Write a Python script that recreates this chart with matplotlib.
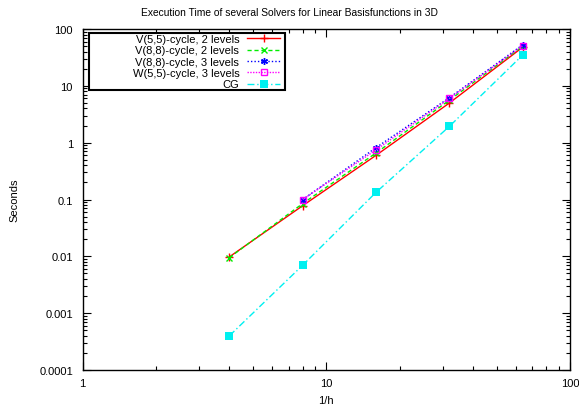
import matplotlib
matplotlib.use("Agg")
import matplotlib.pyplot as plt
from matplotlib.patches import Rectangle
from matplotlib.ticker import LogLocator, FixedLocator, FixedFormatter, NullFormatter

plt.rcParams['font.family'] = ['Liberation Sans', 'DejaVu Sans']

# 1/h values for each grid level
h_inv = [4, 8, 16, 32, 64]
h_inv_3lvl = [8, 16, 32, 64]

# execution times in seconds
v55_2 = [0.0098, 0.078, 0.6, 5.0, 48]
v88_2 = [0.0095, 0.085, 0.66, 5.6, 50]
v88_3 = [0.1, 0.82, 6.2, 53]
w55_3 = [0.1, 0.75, 6.0, 51]
cg = [0.0004, 0.007, 0.134, 1.94, 35]

labels = ["V(5,5)-cycle, 2 levels", "V(8,8)-cycle, 2 levels",
          "V(8,8)-cycle, 3 levels", "W(5,5)-cycle, 3 levels", "CG"]

x_ticks = [1, 10, 100]
x_tick_labels = ["1", "10", "100"]
y_ticks = [0.0001, 0.001, 0.01, 0.1, 1, 10, 100]
y_tick_labels = ["0.0001", "0.001", "0.01", "0.1", "1", "10", "100"]

fig = plt.figure(figsize=(5.79, 4.10), dpi=100)
ax = fig.add_axes([0.1428, 0.0951, 0.9845 - 0.1428, 0.9268 - 0.0951])

ms = 5
ax.plot(h_inv, v55_2, color="#ff0000", ls="-", lw=1, marker="+", ms=ms + 1, mew=1, label=labels[0])
ax.plot(h_inv, v88_2, color="#00ee00", ls=(0, (3, 2)), lw=1, marker="x", ms=ms - 0.5, mew=1, label=labels[1])
ax.plot(h_inv_3lvl, v88_3, color="#0000ff", ls=(0, (1, 1.5)), lw=1, marker=(6, 2, 0), ms=ms, mew=1, label=labels[2])
ax.plot(h_inv_3lvl, w55_3, color="#ff00ff", ls=(0, (1, 1)), lw=1, marker="s", ms=ms, mew=1,
        mfc="none", label=labels[3])
ax.plot(h_inv, cg, color="#00f0f0", ls=(0, (5, 2, 1, 2)), lw=1, marker="s", ms=ms + 1, mew=0,
        label=labels[4])

ax.set_xscale("log")
ax.set_yscale("log")
ax.set_xlim(1, 100)
ax.set_ylim(0.0001, 100)

ax.xaxis.set_major_locator(FixedLocator(x_ticks))
ax.xaxis.set_major_formatter(FixedFormatter(x_tick_labels))
ax.yaxis.set_major_locator(FixedLocator(y_ticks))
ax.yaxis.set_major_formatter(FixedFormatter(y_tick_labels))
ax.xaxis.set_minor_locator(LogLocator(base=10, subs=range(2, 10), numticks=20))
ax.yaxis.set_minor_locator(LogLocator(base=10, subs=range(2, 10), numticks=20))
ax.xaxis.set_minor_formatter(NullFormatter())
ax.yaxis.set_minor_formatter(NullFormatter())

ax.tick_params(which="both", direction="in", top=True, right=True, width=0.8, labelsize=8)
ax.tick_params(which="major", length=6)
ax.tick_params(which="minor", length=3)
ax.tick_params(axis="y", pad=7)
ax.tick_params(axis="x", pad=6)
for s in ax.spines.values():
    s.set_linewidth(1)

fig.text(0.5, 0.968, "Execution Time of several Solvers for Linear Basisfunctions in 3D",
         fontsize=7.4, ha="center", va="center")
ax.set_xlabel("1/h", fontsize=8, labelpad=5)
ax.set_ylabel("Seconds", fontsize=8)
ax.yaxis.set_label_coords(-0.129, 0.5)

# key box with right-aligned entries
ax.add_patch(Rectangle((0.013, 0.821), 0.403, 0.167, transform=ax.transAxes,
                       fill=True, facecolor="white", edgecolor="black", lw=1.5, zorder=4))
leg = ax.legend(loc="upper right", bbox_to_anchor=(0.4057, 0.985), markerfirst=False, fontsize=8,
                frameon=False, labelspacing=0.12, handlelength=3.0, handletextpad=0.7,
                borderpad=0, borderaxespad=0)
leg.set_zorder(5)

fig.savefig("out.png", dpi=100)
